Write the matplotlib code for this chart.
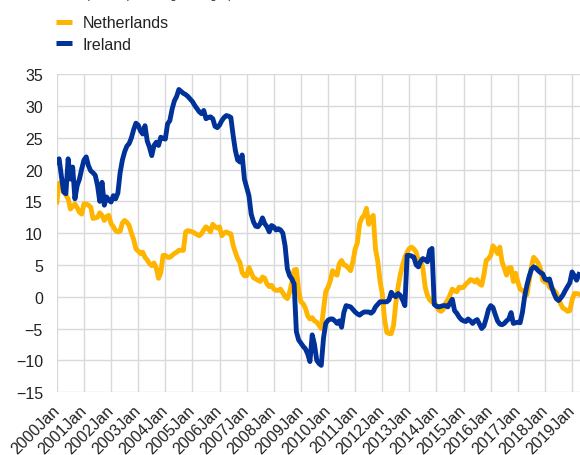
import matplotlib
matplotlib.use('Agg')
import matplotlib.pyplot as plt
import matplotlib.transforms as mtransforms
from matplotlib.lines import Line2D

plt.rcParams['font.family'] = ['Liberation Sans', 'DejaVu Sans']
plt.rcParams['font.size'] = 11

# monthly values, Jan 2000 - Apr 2019
netherlands = [
    14.9, 17.8, 18.0, 16.5, 16.0, 15.4, 13.8, 14.2, 14.6, 14.0, 13.3, 13.0,
    14.6, 14.6, 14.4, 14.1, 12.3, 12.4, 12.5, 13.2, 12.8, 12.0, 12.6, 12.8,
    11.5, 11.0, 10.4, 10.2, 10.3, 11.6, 12.0, 11.7, 11.2, 10.0, 9.0, 7.5,
    7.2, 6.8, 7.0, 6.2, 5.8, 5.2, 4.9, 5.3, 4.5, 2.9, 3.8, 6.5,
    6.5, 6.2, 6.2, 6.5, 6.8, 7.0, 7.3, 7.3, 7.3, 10.2, 10.4, 10.3,
    10.2, 10.0, 9.8, 9.6, 9.9, 10.5, 11.0, 10.7, 10.2, 11.4, 11.0, 10.8,
    11.0, 9.6, 10.0, 10.2, 10.0, 9.9, 8.1, 7.0, 6.0, 5.4, 3.8, 3.3,
    3.3, 4.6, 3.8, 3.0, 2.8, 2.6, 2.4, 3.1, 2.9, 2.0, 1.6, 1.8,
    1.2, 1.0, 1.0, 1.2, 0.6, 0.0, -0.3, 0.7, 2.3, 4.2, 4.3, 1.0,
    -0.8, -1.1, -1.8, -3.0, -3.5, -3.3, -3.8, -4.0, -4.5, -5.0, -2.0, 0.8,
    1.5, 2.5, 4.1, 3.6, 3.4, 5.2, 5.7, 5.0, 4.9, 4.5, 4.1, 5.5,
    7.5, 8.5, 11.5, 12.4, 12.8, 13.9, 11.4, 12.3, 12.8, 7.5, 5.6, 2.5,
    0.5, -3.5, -5.6, -5.8, -5.8, -4.5, -1.0, 1.5, 3.5, 5.0, 6.2, 7.0,
    7.6, 7.8, 7.5, 7.0, 5.5, 5.9, 4.4, 1.5, 0.2, -0.5, -0.8, -0.8,
    -1.5, -2.1, -2.3, -2.0, -1.0, -0.5, 0.3, 1.2, 0.9, 0.8, 1.5, 1.4,
    1.5, 2.0, 2.3, 2.7, 2.6, 2.3, 2.7, 2.0, 1.8, 3.5, 5.7, 6.0,
    6.5, 8.0, 7.5, 6.8, 7.8, 5.5, 4.5, 3.4, 4.5, 4.6, 2.4, 3.7,
    2.3, 1.2, 1.0, 0.6, 0.3, 2.5, 4.7, 6.2, 5.8, 5.3, 4.4, 2.6,
    2.3, 2.4, 1.5, 1.2, 1.0, 0.6, -0.3, -1.2, -1.8, -2.0, -2.3, -2.2,
    -0.5, 0.5, 0.5, 0.4,
]

ireland = [
    21.2, 21.7, 19.0, 16.5, 16.2, 21.7, 18.5, 20.4, 15.4, 17.5, 18.5, 20.1,
    21.5, 22.0, 20.6, 19.8, 19.5, 19.1, 17.5, 15.0, 18.0, 14.4, 15.7, 15.2,
    14.9, 15.9, 15.4, 16.3, 19.5, 21.5, 22.8, 23.7, 24.1, 25.0, 26.3, 27.3,
    27.0, 26.1, 25.6, 26.9, 24.5, 23.5, 22.2, 23.8, 24.3, 23.8, 25.1, 24.9,
    24.8, 27.2, 27.7, 29.5, 30.8, 31.5, 32.6, 32.3, 32.0, 31.8, 31.5, 31.1,
    30.7, 30.1, 29.6, 29.1, 28.8, 29.3, 28.0, 28.2, 28.3, 28.0, 26.8, 26.6,
    27.0, 27.7, 28.2, 28.5, 28.4, 28.2, 25.4, 23.0, 21.5, 21.2, 22.3, 18.5,
    17.2, 15.9, 13.0, 11.8, 11.1, 11.0, 11.5, 12.4, 11.5, 11.0, 10.2, 11.2,
    11.0, 10.5, 10.7, 10.5, 10.0, 8.0, 4.4, 3.3, 2.8, 2.0, -5.5, -6.8,
    -7.3, -7.8, -8.2, -9.0, -10.2, -6.0, -7.5, -10.0, -10.5, -10.8, -6.5, -4.2,
    -3.7, -3.5, -3.5, -3.8, -4.2, -3.8, -4.8, -2.5, -1.4, -1.5, -1.6, -2.0,
    -2.4, -2.7, -2.9, -2.6, -2.4, -2.4, -2.4, -2.6, -2.3, -1.6, -1.2, -0.8,
    -0.8, -0.8, -0.8, -0.5, 0.7, 0.2, 0.0, 0.5, 0.2, -0.5, -1.4, 6.5,
    6.5, 6.4, 6.2, 5.0, 4.7, 5.6, 6.0, 5.8, 5.5, 7.3, 7.6, -1.2,
    -1.5, -1.6, -1.5, -1.4, -1.4, -1.6, -1.0, -0.4, -2.2, -2.6, -3.2, -3.6,
    -3.8, -3.9, -3.5, -3.8, -4.2, -3.8, -3.6, -4.3, -5.0, -4.6, -3.4, -2.0,
    -1.4, -1.7, -2.8, -3.8, -4.3, -4.4, -4.2, -3.8, -3.5, -2.5, -4.2, -4.1,
    -4.0, -4.1, -2.5, 0.0, 1.8, 3.2, 4.3, 4.7, 4.5, 4.1, 3.8, 3.6,
    2.8, 2.6, 2.8, 1.5, 0.5, -0.3, -0.6, -0.2, 0.3, 1.0, 1.6, 2.2,
    3.9, 3.3, 2.6, 3.5,
]

years = list(range(2000, 2020))
tick_labels = [f'{y}Jan' for y in years]

yellow = '#FFB400'
blue = '#003299'
grid_col = '#D9D9D9'
text_col = '#222222'

fig = plt.figure(figsize=(5.8, 4.56), dpi=100)
ax = fig.add_axes([0.098, 0.138, 0.902, 0.697])

x = list(range(len(netherlands)))
ax.plot(x, netherlands, color=yellow, lw=3.5, solid_joinstyle='round')
ax.plot(x, ireland, color=blue, lw=3.5, solid_joinstyle='round')

ax.set_xlim(0, 231.5)
ax.set_ylim(-15, 35)
ax.set_yticks(range(-15, 36, 5))
ax.set_xticks([12 * i for i in range(len(years))])
ax.set_xticklabels(tick_labels, rotation=45, ha='right', va='center',
                   rotation_mode='anchor')
shift = mtransforms.ScaledTranslation(3 / 100, 0, fig.dpi_scale_trans)
for lab in ax.get_xticklabels():
    lab.set_transform(lab.get_transform() + shift)

ax.grid(True, color=grid_col, lw=1)
ax.set_axisbelow(True)
for s in ax.spines.values():
    s.set_visible(False)
ax.tick_params(length=0, labelsize=11.5, colors=text_col)
ax.tick_params(axis='y', pad=10)
ax.tick_params(axis='x', pad=11)

handles = [Line2D([], [], color=yellow, lw=3.6, solid_capstyle='butt'),
           Line2D([], [], color=blue, lw=3.6, solid_capstyle='butt')]
fig.legend(handles, ['Netherlands', 'Ireland'], loc='upper left',
           bbox_to_anchor=(0.085, 0.978), frameon=False, fontsize=11.5,
           handlelength=1.05, handletextpad=0.62, labelspacing=0.4,
           borderaxespad=0, labelcolor=text_col)

# subtitle, mostly cut off by the top edge
fig.text(0.148, 1 + 0.8 / 456, '(annual percentage changes)', ha='left',
         va='baseline', fontsize=8, color=text_col)

fig.savefig('out.png', dpi=100, facecolor='white')
